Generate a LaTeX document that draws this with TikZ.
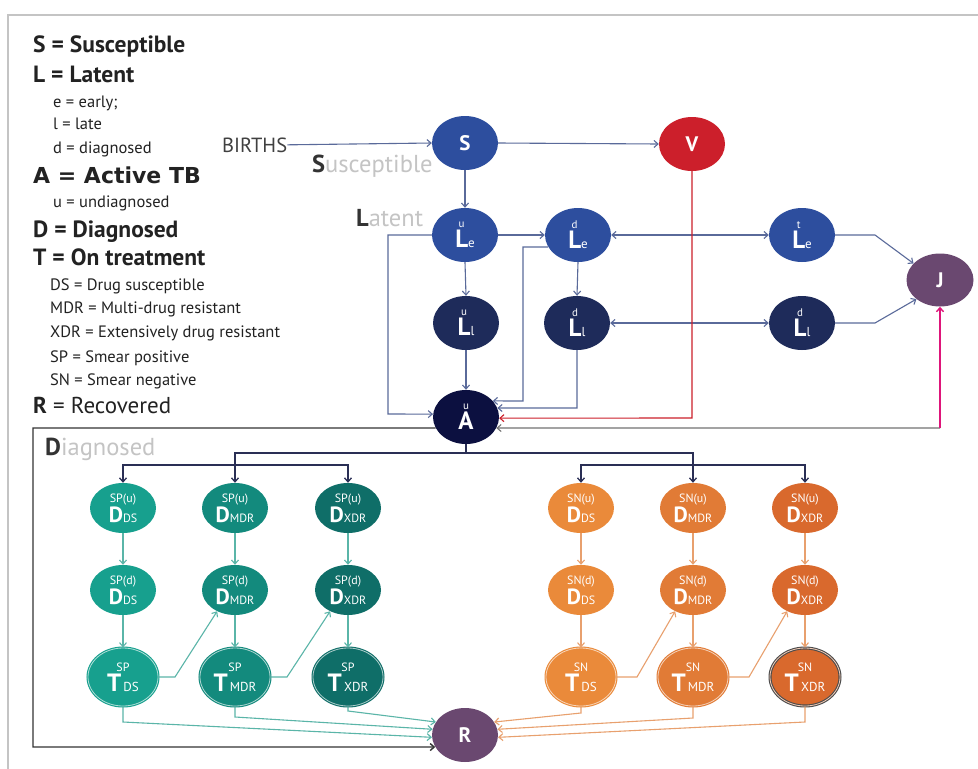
\documentclass[tikz,border=0pt]{standalone}
\usepackage{fontspec}
\setmainfont{PT Sans}
\newfontfamily\widefont{DejaVu Sans}
\usetikzlibrary{shapes.geometric,arrows.meta}
\definecolor{cblue}{HTML}{2D4E9E}
\definecolor{cnavy}{HTML}{1E2B5A}
\definecolor{cdark}{HTML}{0C1040}
\definecolor{cred}{HTML}{CC1F2B}
\definecolor{cpurp}{HTML}{6A4870}
\definecolor{tA}{HTML}{17A08E}
\definecolor{tB}{HTML}{138A7D}
\definecolor{tC}{HTML}{0F6E68}
\definecolor{oA}{HTML}{EA8A3A}
\definecolor{oB}{HTML}{E17B36}
\definecolor{oC}{HTML}{D9692D}
\definecolor{conn}{HTML}{5A6A9A}
\definecolor{tline}{HTML}{5AB5A8}
\definecolor{oline}{HTML}{E8A06E}
\definecolor{distc}{HTML}{2A2F55}
\definecolor{lgray}{HTML}{C4C4C4}
\definecolor{txt}{HTML}{222222}
\newcommand\Lab[3]{\shortstack{{\fontsize{11}{11}\selectfont #1\hphantom{\fontsize{13}{13}\selectfont #3}}\\[-1pt]{\fontsize{25}{25}\selectfont\bfseries #2}{\fontsize{13}{13}\selectfont #3}}}
\newcommand\Dlab[3]{\shortstack{{\fontsize{12}{12}\selectfont #1}\\[-1pt]{\fontsize{22}{22}\selectfont\bfseries #2}{\fontsize{12}{12}\selectfont #3}}}
\newcommand\Tlab[3]{\shortstack{{\fontsize{12}{12}\selectfont #1}\\[-1pt]{\fontsize{25}{25}\selectfont\bfseries #2}{\fontsize{13}{13}\selectfont\,#3}}}
\begin{document}
\begin{tikzpicture}[x=1pt,y=-1pt,
  >={Straight Barb[length=4pt,width=7pt]},
  nd/.style={ellipse,minimum width=66pt,minimum height=54pt,inner sep=0pt,text=white,align=center,fill=#1},
  dn/.style={ellipse,minimum width=66pt,minimum height=50pt,inner sep=0pt,text=white,align=center,fill=#1},
  tn/.style={ellipse,minimum width=70pt,minimum height=58pt,inner sep=0pt,text=white,align=center,fill=#1,draw=#1,double=#1!35!white,double distance=0.8pt,line width=1.1pt},
  cb/.style={draw=conn,line width=1.1pt},
  tl/.style={draw=tline,line width=1.1pt},
  ol/.style={draw=oline,line width=1.1pt},
  dk/.style={draw=distc,line width=1.3pt},
  leg/.style={anchor=base west,inner sep=0pt,text=txt},
  big/.style={font=\fontsize{23.5}{24}\selectfont\bfseries},
  sml/.style={font=\fontsize{16.5}{17}\selectfont},
  lbl/.style={anchor=base west,inner sep=0pt,font=\fontsize{24.5}{25}\selectfont,text=lgray}]
\fill[white] (0,0) rectangle (978,769);
\useasboundingbox (0,0) rectangle (978,769);
\draw[lgray,line width=1.8pt] (8,769) -- (8,15) -- (978,15);

% legend
\node[leg,big] (lg1) at (33,52) {S = Susceptible};
\node[leg,big] (lg2) at (33,82) {L = Latent};
\node[leg,sml] (lg3) at (53,107) {e = early;};
\node[leg,sml] (lg4) at (53,129) {l = late};
\node[leg,sml] (lg5) at (53,153) {d = diagnosed};
\node[leg,font=\widefont\fontsize{22}{22}\selectfont\bfseries] (lg6) at (33,183) {A = Active TB};
\node[leg,sml] (lg7) at (53,207) {u = undiagnosed};
\node[leg,big] (lg8) at (33,237) {D = Diagnosed};
\node[leg,big] (lg9) at (33,265) {T = On treatment};
\node[leg,sml] (lg10) at (50,290) {DS = Drug susceptible};
\node[leg,sml] (lg11) at (50,313) {MDR = Multi-drug resistant};
\node[leg,sml] (lg12) at (50,337) {XDR = Extensively drug resistant};
\node[leg,sml] (lg13) at (50,362) {SP = Smear positive};
\node[leg,sml] (lg14) at (50,385) {SN = Smear negative};
\node[leg,font=\fontsize{23}{23}\selectfont] (lg15) at (33,413) {\textbf{R} = Recovered};

% labels
\node[leg,font=\fontsize{20.5}{21}\selectfont,text=black!75] (births) at (222,152) {BIRTHS};
\node[lbl] (labS) at (312,172) {\textcolor{black!80}{\bfseries S}usceptible};
\node[lbl] (labL) at (356,226) {\textcolor{black!80}{\bfseries L}atent};
\node[lbl] (labD) at (45,455) {\textcolor{black!80}{\bfseries D}iagnosed};

% upper nodes
\node[nd=cblue] (S) at (465,143) {\fontsize{21}{21}\selectfont\bfseries S};
\node[nd=cred] (V) at (692,144) {\fontsize{21}{21}\selectfont\bfseries V};
\node[nd=cblue] (Lue) at (465,235) {\Lab{u}{L}{e}};
\node[nd=cblue] (Lde) at (578,235) {\Lab{d}{L}{e}};
\node[nd=cblue] (Lte) at (802,235) {\Lab{t}{L}{e}};
\node[nd=cpurp,minimum width=67pt,minimum height=53pt] (J) at (940,280) {\fontsize{21}{21}\selectfont\bfseries J};
\node[nd=cnavy] (Lul) at (466,323) {\Lab{u}{L}{l}};
\node[nd=cnavy] (Ldl) at (577,323) {\Lab{d}{L}{l}};
\node[nd=cnavy] (Ldl2) at (802,323) {\Lab{d}{L}{l}};
\node[nd=cdark] (A) at (466,417) {\Lab{u}{A}{}};
\node[nd=cpurp] (R) at (465,735) {\fontsize{21}{21}\selectfont\bfseries R};

% diagnosed nodes SP
\node[dn=tA] (pDSu) at (123,508) {\Dlab{SP(u)}{D}{DS}};
\node[dn=tB] (pMDRu) at (235,508) {\Dlab{SP(u)}{D}{MDR}};
\node[dn=tC] (pXDRu) at (348,508) {\Dlab{SP(u)}{D}{XDR}};
\node[dn=tA] (pDSd) at (123,590) {\Dlab{SP(d)}{D}{DS}};
\node[dn=tB] (pMDRd) at (235,590) {\Dlab{SP(d)}{D}{MDR}};
\node[dn=tC] (pXDRd) at (348,590) {\Dlab{SP(d)}{D}{XDR}};
\node[tn=tA] (pDSt) at (123,677) {\Tlab{SP}{T}{DS}};
\node[tn=tB] (pMDRt) at (235,677) {\Tlab{SP}{T}{MDR}};
\node[tn=tC] (pXDRt) at (348,677) {\Tlab{SP}{T}{XDR}};
% SN
\node[dn=oA] (nDSu) at (581,508) {\Dlab{SN(u)}{D}{DS}};
\node[dn=oB] (nMDRu) at (693,508) {\Dlab{SN(u)}{D}{MDR}};
\node[dn=oC] (nXDRu) at (805,508) {\Dlab{SN(u)}{D}{XDR}};
\node[dn=oA] (nDSd) at (581,590) {\Dlab{SN(d)}{D}{DS}};
\node[dn=oB] (nMDRd) at (693,590) {\Dlab{SN(d)}{D}{MDR}};
\node[dn=oC] (nXDRd) at (805,590) {\Dlab{SN(d)}{D}{XDR}};
\node[tn=oA] (nDSt) at (581,677) {\Tlab{SN}{T}{DS}};
\node[tn=oB] (nMDRt) at (693,677) {\Tlab{SN}{T}{MDR}};
\node[tn=oC,draw=black!70] (nXDRt) at (805,677) {\Tlab{SN}{T}{XDR}};

% upper connectors
\draw[cb,->] (births.east) -- (S.west);
\draw[cb,->] (S.east) -- (V.west);
\draw[cb,->] (S.south) -- (Lue.north);
\draw[cb,->] (Lue.east) -- (Lde.west);
\draw[cb,->] (Lue.south) -- (Lul.north);
\draw[cb,->] (Lde.south) -- (Ldl.north);
\draw[cb,<->] (Lde.east) -- (Lte.west);
\draw[cb,<->] (Ldl.east) -- (Ldl2.west);
\draw[cb,->] (Lte.east) -- (875,235) -- (J.148);
\draw[cb,->] (Ldl2.east) -- (875,323) -- (J.219);
\draw[cb,->] (Lue.west) -- (388,235) -- (388,414) -- (A.175);
\draw[cb,->] (Lde.202) -- (523,247) -- (523,401) -- (A.31);
\draw[cb,->] (Lul.south) -- (A.north);
\draw[cb,->] (Ldl.south) -- (577,408) -- (A.16);
\draw[draw=cred,line width=1.1pt,->] (V.south) -- (692,418) -- (A.-2);
\coordinate (jc) at (940,428);
\draw[draw=black!55,line width=1.1pt,<-] (A.-20) -- (jc);
\draw[draw=magenta!70!purple,line width=1.4pt,->] (jc) -- (J.south);
\draw[draw=black!80,line width=1.4pt,->] (A.200) -- (33,428) -- (33,747) -- (R.202);

% distribution
\coordinate (hub) at (466,453);
\coordinate (sph) at (235,465);
\coordinate (snh) at (693,465);
\draw[dk] (A.south) -- (hub);
\draw[dk,->] (hub) -| (pMDRu.north);
\draw[dk,->] (hub) -| (nMDRu.north);
\draw[dk,->] (sph) -| (pDSu.north);
\draw[dk,->] (sph) -| (pXDRu.north);
\draw[dk,->] (snh) -| (nDSu.north);
\draw[dk,->] (snh) -| (nXDRu.north);

% chains
\foreach \c in {DS,MDR,XDR}{
  \draw[tl,->] (p\c u.south) -- (p\c d.north);
  \draw[tl,->] (p\c d.south) -- (p\c t.north);
  \draw[ol,->] (n\c u.south) -- (n\c d.north);
  \draw[ol,->] (n\c d.south) -- (n\c t.north);
}
\draw[tl,->] (pDSt.east) -- (175,677) -- (pMDRd.230);
\draw[tl,->] (pMDRt.east) -- (287,677) -- (pXDRd.230);
\draw[ol,->] (nDSt.east) -- (637,677) -- (nMDRd.230);
\draw[ol,->] (nMDRt.east) -- (749,677) -- (nXDRd.230);

% to R
\draw[tl,->] (pDSt.south) -- (123,722) -- (R.184);
\draw[tl,->] (pMDRt.south) -- (235,717) -- (R.170);
\draw[tl,->] (pXDRt.south) -- (348,711) -- (R.156);
\draw[ol,->] (nDSt.south) -- (581,713) -- (R.24);
\draw[ol,->] (nMDRt.south) -- (693,718) -- (R.10);
\draw[ol,->] (nXDRt.south) -- (805,722) -- (R.-4);
\end{tikzpicture}
\end{document}
